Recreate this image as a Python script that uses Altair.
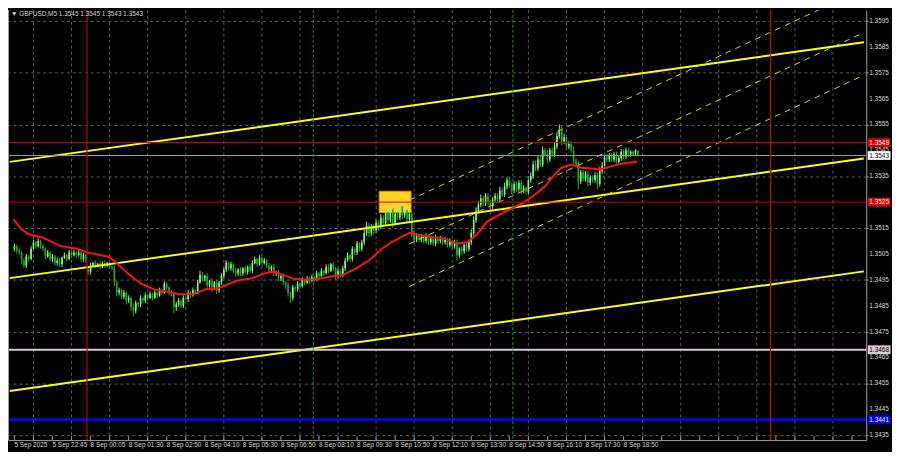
import altair as alt
import pandas as pd

# ---------------- data (prices in pips above 1.3400) ----------------
BASE = 1.34
title_ohlc = [1.3545, 1.3545, 1.3543, 1.3543]

first_open = 107.0
gap_opens = {31: 99.0}
closes = [
    108, 106, 105.5, 102.5, 100.5, 104, 103, 107, 109.5, 108,
    110, 108, 107, 104, 105.5, 103, 104, 101.5, 102.5, 101,
    103.5, 104.5, 103, 105.5, 104.5, 105.5, 104.5, 105.5, 103, 104.5,
    102.5, 98, 100.5, 101.5, 100.5, 101, 100, 101.5, 100.5, 101.5,
    100, 99.5, 94, 90, 91, 88.5, 90, 87, 88, 84.5,
    83, 86, 85.5, 88, 87, 89, 88, 89.5, 88, 90,
    89, 91, 90, 93.5, 92, 90, 89.5, 84.5, 85.5, 87,
    85, 88, 87.5, 90, 89, 91, 90.5, 94, 97, 95.5,
    96.5, 93, 94.5, 92, 94, 91, 94, 96.5, 99, 101.5,
    99.5, 101, 98.5, 97.5, 99, 97.5, 99.5, 98, 100, 98.5,
    101.5, 103, 101, 103.5, 101.5, 102.5, 100.5, 99, 100, 97.5,
    98, 95.5, 96.5, 94, 93, 90, 88, 92, 91.5, 93.5,
    92.5, 95, 94, 95.5, 94.5, 96, 95, 97.5, 96.5, 98.5,
    97.5, 100, 98.5, 101, 99.5, 96.5, 98.5, 97, 99.5, 102.5,
    104.5, 103, 107, 105.5, 109, 107, 109.5, 113, 116, 113,
    115.5, 114, 117, 115.5, 119, 117, 121, 118, 122.5, 117,
    120.5, 119, 123.5, 120, 122, 118.5, 120.5, 113, 110.5, 112,
    110.5, 111.5, 110, 112, 109.5, 111, 109, 111.5, 110, 111,
    109.5, 110.5, 108.5, 110, 108, 109.5, 104.5, 107, 106, 108.5,
    107, 109.5, 113, 118, 121.5, 124, 126.5, 124.5, 127.5, 125,
    123.5, 126, 127.5, 126, 129.5, 128, 131, 133.5, 131.5, 129.5,
    132, 130, 132.5, 129.5, 130.5, 129, 133.5, 135, 139.5, 138,
    141.5, 139.5, 145, 143.5, 141.5, 145, 143.5, 146.5, 150.5, 153,
    148.5, 150, 146.5, 147.5, 145, 141, 139.5, 133, 136.5, 134,
    136, 132.5, 134.5, 133.5, 135.5, 132, 137, 139, 142.5, 141.5,
    143, 141.5, 143.5, 140.5, 142, 144.5, 142.5, 145, 143.5, 144.5,
    143.5, 145, 143,
]
wick_up = [
    1, 0.5, 1, 0.5, 1, 1, 0.5, 1, 1, 0.5,
    1, 0.5, 1, 0.5, 1, 0.5, 1, 0.5, 1, 1,
    0.5, 1, 0.5, 1, 0.5, 1, 0.5, 1, 0.5, 1,
    0.5, 1, 1, 0.5, 1, 0.5, 1, 0.5, 1, 0.5,
    0.5, 0.5, 1, 0.5, 1, 0.5, 1, 0.5, 1, 0.5,
    1, 1, 0.5, 1, 0.5, 1, 0.5, 1, 0.5, 1,
    0.5, 1, 0.5, 1, 0.5, 0.5, 1, 0.5, 1, 1,
    0.5, 1, 0.5, 1, 0.5, 1, 0.5, 1, 1.5, 1,
    0.5, 1, 0.5, 1, 0.5, 1, 0.5, 1, 1, 1,
    0.5, 1, 0.5, 1, 0.5, 1, 0.5, 1, 0.5, 1,
    1, 1, 0.5, 1, 0.5, 1, 0.5, 1, 0.5, 1,
    0.5, 1, 0.5, 1, 0.5, 1, 0.5, 1, 0.5, 1,
    0.5, 1, 0.5, 1, 0.5, 1, 0.5, 1, 0.5, 1,
    0.5, 1, 1, 0.5, 1, 0.5, 1, 0.5, 1, 1,
    1, 0.5, 1, 0.5, 1, 0.5, 1, 1.5, 1.5, 1,
    1, 1, 1.5, 1, 1.5, 1, 1.5, 1, 1.5, 1,
    1, 1, 1.5, 1, 1, 1, 1, 1, 1, 1,
    0.5, 1, 0.5, 1, 0.5, 1, 0.5, 1, 0.5, 1,
    0.5, 1, 0.5, 1, 0.5, 1, 1, 0.5, 1, 0.5,
    1, 1, 1.5, 1.5, 1.5, 1.5, 1.5, 1, 1, 1,
    1, 1, 1, 1, 1.5, 1, 1.5, 1, 1, 1,
    1, 1, 1, 1, 1, 0.5, 1.5, 1.5, 1.5, 1.5,
    1.5, 1.5, 1.5, 1, 1.5, 1, 1, 1.5, 1.5, 2,
    1.5, 1.5, 1, 1, 1, 1.5, 1, 1.5, 1, 1,
    1, 1, 1, 1, 1, 1, 1.5, 1.5, 1.5, 1,
    1, 1, 1, 1, 1, 1, 1, 1, 1, 0.5,
    0.5, 0.5, 0,
]
wick_dn = [
    1, 1, 1, 1.5, 1, 1, 1, 0.5, 1, 1,
    0.5, 1, 1, 1, 0.5, 1, 1, 1, 1, 1,
    1, 0.5, 1, 0.5, 1, 0.5, 1, 0.5, 1, 1,
    1, 1, 1, 0.5, 1, 0.5, 1, 0.5, 1, 0.5,
    1, 1, 1.5, 1.5, 1, 1, 1, 1.5, 1, 1.5,
    2, 1, 1, 1, 1, 1, 1, 0.5, 1, 0.5,
    1, 0.5, 1, 0.5, 1, 1, 1, 2.5, 1.5, 1,
    1, 1, 0.5, 1, 1, 0.5, 1, 1, 0.5, 1,
    1, 1.5, 1, 1.5, 1, 1.5, 1, 1, 1, 1,
    1, 1, 1, 1.5, 1, 1, 1, 1, 1, 1,
    1, 0.5, 1, 0.5, 1, 0.5, 1, 1, 1, 1,
    1, 1, 1, 1, 1.5, 1.5, 2, 1, 1, 1,
    1, 0.5, 1, 0.5, 1, 0.5, 1, 0.5, 1, 0.5,
    1, 0.5, 1, 0.5, 1, 1.5, 1, 1, 1, 1,
    0.5, 1, 1, 1, 1, 1, 1, 1, 1, 1.5,
    1, 1.5, 1, 1.5, 1, 1.5, 1, 1.5, 1, 2,
    1, 1, 1, 1.5, 1, 1.5, 1, 1.5, 1, 1,
    1, 1, 1, 1, 1, 1, 1, 1, 1, 1,
    1, 1, 1, 1, 1, 1, 2, 1, 1.5, 1,
    1, 1, 1, 1, 1, 1, 1, 1, 1, 1.5,
    1.5, 1, 1, 1, 1, 1, 1, 1, 1, 1.5,
    1, 1, 1, 1.5, 1, 1, 1, 1, 1, 1,
    1, 1, 1, 1, 1.5, 1, 1, 1, 1, 1,
    1.5, 1, 1.5, 1, 1, 1.5, 1, 3, 1, 1,
    1, 1.5, 1, 1, 1, 2, 1, 1, 1, 1,
    1, 1, 1, 1.5, 1, 1, 1, 1, 1, 1,
    0.5, 0.5, 0,
]

ma_idx = [-0.4, 2.9, 5.7, 12.2, 19.2, 26.1, 31.4, 39.5, 42.4, 47.7,
          53.0, 58.7, 64.0, 69.3, 75.0, 80.3, 85.6, 88.5, 93.8, 99.5,
          104.8, 108.8, 113.7, 117.0, 121.1, 126.4, 132.1, 138.2, 143.5, 148.8,
          154.5, 158.6, 162.7, 165.9, 168.0, 172.8, 181.0, 186.3, 190.4, 194.5,
          198.5, 202.6, 206.7, 210.8, 214.8, 218.9, 223.0, 227.1, 229.9, 234.0,
          238.1, 242.2, 246.2, 250.3, 255.6, 261.7]
ma_pips = [118.4, 114.6, 112.7, 111.2, 108.1, 107.0, 105.4, 103.9, 102.0, 97.4,
           93.6, 91.3, 90.5, 89.4, 89.4, 91.3, 91.7, 92.8, 94.7, 95.5,
           97.4, 98.2, 96.6, 95.5, 95.1, 95.1, 96.2, 97.0, 99.3, 102.4,
           107.0, 109.6, 111.6, 113.1, 112.7, 111.9, 110.8, 108.9, 109.6, 112.7,
           117.3, 119.6, 121.5, 123.4, 125.3, 128.0, 131.1, 135.7, 138.3, 139.5,
           138.3, 138.0, 137.6, 138.7, 139.9, 140.6]

# trend lines: (start index, start pips, end index, end pips)
solid_lines = [(-2, 140.55, 357, 186.73), (-2, 95.65, 357, 141.83), (-2, 52.08, 357, 98.26)]
dashed_lines = [(165.9, 125.72, 357, 207.36), (165.9, 108.87, 357, 190.51), (165.9, 92.41, 357, 174.05)]

# horizontal levels
levels = [1.3548, 1.3543, 1.3525, 1.3468, 1.3441]
day_lines = [30.5, 317.8]
session_lines = [125.6, 209.5]
box = {"i0": [153.3], "i1": [166.7], "p0": [1.35210], "p1": [1.35292]}

tick_labels = ["5 Sep 2025", "5 Sep 22:45", "8 Sep 00:05", "8 Sep 01:30", "8 Sep 02:50",
               "8 Sep 04:10", "8 Sep 05:30", "8 Sep 06:50", "8 Sep 08:10", "8 Sep 09:30",
               "8 Sep 10:50", "8 Sep 12:10", "8 Sep 13:30", "8 Sep 14:50", "8 Sep 16:10",
               "8 Sep 17:30", "8 Sep 18:50"]
tick_label_idx = [16 * k for k in range(len(tick_labels))]
minor_ticks = list(range(0, 353, 8))
vgrid = list(range(8, 353, 16))
price_ticks = [round(1.3435 + 0.001 * k, 4) for k in range(17)]

# ---------------- build frames ----------------
def px(p):
    return BASE + p / 10000.0

assert len(closes) == len(wick_up) == len(wick_dn)
rows = []
prev = first_open
for i, c in enumerate(closes):
    o = gap_opens.get(i, prev)
    prev = c
    rows.append(dict(i=i, o=px(o), c=px(c),
                     h=px(max(o, c) + wick_up[i]), l=px(min(o, c) - wick_dn[i]),
                     d="up" if c >= o else "dn"))
candles = pd.DataFrame(rows)
ma = pd.DataFrame({"i": ma_idx, "p": [px(v) for v in ma_pips]})

def seg_frame(lines):
    r = []
    for n, (a, pa, b, pb) in enumerate(lines):
        r.append(dict(line=n, i=a, p=px(pa)))
        r.append(dict(line=n, i=b, p=px(pb)))
    return pd.DataFrame(r)

W, H = 866, 434
FONT = "Liberation Sans"
GRID = "#5a5a5a"
TXT = "#d8d8d8"
xs = alt.Scale(domain=[-0.62, 355.9], nice=False, zero=False)
ys = alt.Scale(domain=[1.343309, 1.359921], nice=False, zero=False)

def X(f="i"):
    return alt.X(f, type="quantitative", scale=xs, title=None)

def Y(f="p"):
    return alt.Y(f, type="quantitative", scale=ys, title=None)

x_axis = alt.Axis(values=minor_ticks, labels=False, ticks=False, grid=False,
                  domainColor="#a0a0a0", title=None)
y_axis = alt.Axis(orient="right", values=price_ticks, labels=False, grid=True, gridColor=GRID,
                  gridDash=[3, 3], gridWidth=1, domainColor="#a0a0a0", tickColor="#a0a0a0",
                  tickSize=2, title=None)

cscale = alt.Scale(domain=["up", "dn"], range=["#7dff7d", "#1fb01f"])

vgrid_layer = alt.Chart(pd.DataFrame({"i": vgrid})).mark_rule(
    color=GRID, strokeDash=[3, 3], strokeWidth=1).encode(x=X())

box_layer = alt.Chart(pd.DataFrame(box)).mark_rect(
    color="#ffd21f", stroke="#c89600", strokeWidth=1).encode(
    x=X("i0"), x2="i1", y=Y("p0"), y2="p1")

wicks = alt.Chart(candles).mark_rule(strokeWidth=1).encode(
    x=alt.X("i", type="quantitative", scale=xs, axis=x_axis),
    y=alt.Y("l", type="quantitative", scale=ys, axis=y_axis),
    y2="h",
    color=alt.Color("d:N", scale=cscale, legend=None))

bodies = alt.Chart(candles).mark_bar(size=1.6).encode(
    x=X(), y=Y("o"), y2="c", color=alt.Color("d:N", scale=cscale, legend=None))

solid = alt.Chart(seg_frame(solid_lines)).mark_line(
    color="#ffff00", strokeWidth=2, clip=True).encode(x=X(), y=Y(), detail="line:N")
dashed = alt.Chart(seg_frame(dashed_lines)).mark_line(
    color="#d8d800", strokeWidth=1, strokeDash=[6, 5], clip=True).encode(x=X(), y=Y(), detail="line:N")

ma_layer = alt.Chart(ma).mark_line(color="#ff1010", strokeWidth=2, clip=True).encode(x=X(), y=Y())

level_styles = [("#e00000", 1), ("#9a9a9a", 1), ("#e00000", 1), ("#d8c4d8", 2), ("#0000ff", 3)]
level_layers = [
    alt.Chart(pd.DataFrame({"p": [lv]})).mark_rule(color=col, strokeWidth=w).encode(y=Y())
    for lv, (col, w) in zip(levels, level_styles)
]

day_layer = alt.Chart(pd.DataFrame({"i": day_lines})).mark_rule(
    color="#c80000", strokeWidth=1.2).encode(x=X())
sess_layer = alt.Chart(pd.DataFrame({"i": session_lines})).mark_rule(
    color="#1e9e1e", strokeWidth=1, strokeDash=[3, 2]).encode(x=X())

tick_layer = alt.Chart(pd.DataFrame({"i": minor_ticks})).mark_rule(
    color="#a0a0a0", strokeWidth=1).encode(x=X(), y=alt.value(H - 4), y2=alt.value(H))

left_frame = alt.Chart(pd.DataFrame({"i": [0]})).mark_rule(color="#a0a0a0", strokeWidth=1).encode(
    x=alt.value(0.5), y=alt.value(0), y2=alt.value(H))

# axis labels as text marks
ylab = alt.Chart(pd.DataFrame({"p": price_ticks, "t": [f"{v:.4f}" for v in price_ticks]})).mark_text(
    align="left", baseline="middle", color=TXT, fontSize=6.5, font=FONT).encode(
    x=alt.value(W + 3), y=Y(), text="t:N")
xlab = alt.Chart(pd.DataFrame({"i": tick_label_idx, "t": tick_labels})).mark_text(
    align="left", baseline="top", color=TXT, fontSize=6.5, font=FONT).encode(
    x=X(), y=alt.value(H + 2), text="t:N")

title_text = "\u25bc GBPUSD,M5  " + " ".join(f"{v:.4f}" for v in title_ohlc)
title_layer = alt.Chart(pd.DataFrame({"t": [title_text]})).mark_text(
    align="left", baseline="top", color=TXT, fontSize=6.5, font=FONT).encode(
    x=alt.value(3), y=alt.value(1), text="t:N")

label_styles = [("#e00000", "#ffffff"), ("#ffffff", "#000000"), ("#e00000", "#ffffff"),
                ("#dcc8dc", "#000000"), ("#0000ff", "#ffffff")]
tag_layers = []
for lv, (bg, fg) in zip(levels, label_styles):
    df = pd.DataFrame({"p": [lv], "t": [f"{lv:.4f}"]})
    tag_layers.append(alt.Chart(df).mark_point(
        shape="M-1,-0.38H1V0.38H-1Z", filled=True, size=530, opacity=1, color=bg, strokeWidth=0
    ).encode(x=alt.value(W + 13), y=Y()))
    tag_layers.append(alt.Chart(df).mark_text(
        align="center", baseline="middle", color=fg, fontSize=6.5, font=FONT
    ).encode(x=alt.value(W + 13), y=Y(), text="t:N"))

chart = alt.layer(
    wicks, vgrid_layer, box_layer, bodies, solid, dashed, ma_layer,
    *level_layers, day_layer, sess_layer, tick_layer, left_frame, title_layer,
    ylab, xlab, *tag_layers
).properties(
    width=W, height=H,
    padding={"left": 0, "top": 0, "right": 26, "bottom": 10},
    autosize=alt.AutoSizeParams(type="none"),
).configure(background="#000000").configure_view(stroke=None)

chart.save("out.html", embed_options={"renderer": "svg", "actions": False})
